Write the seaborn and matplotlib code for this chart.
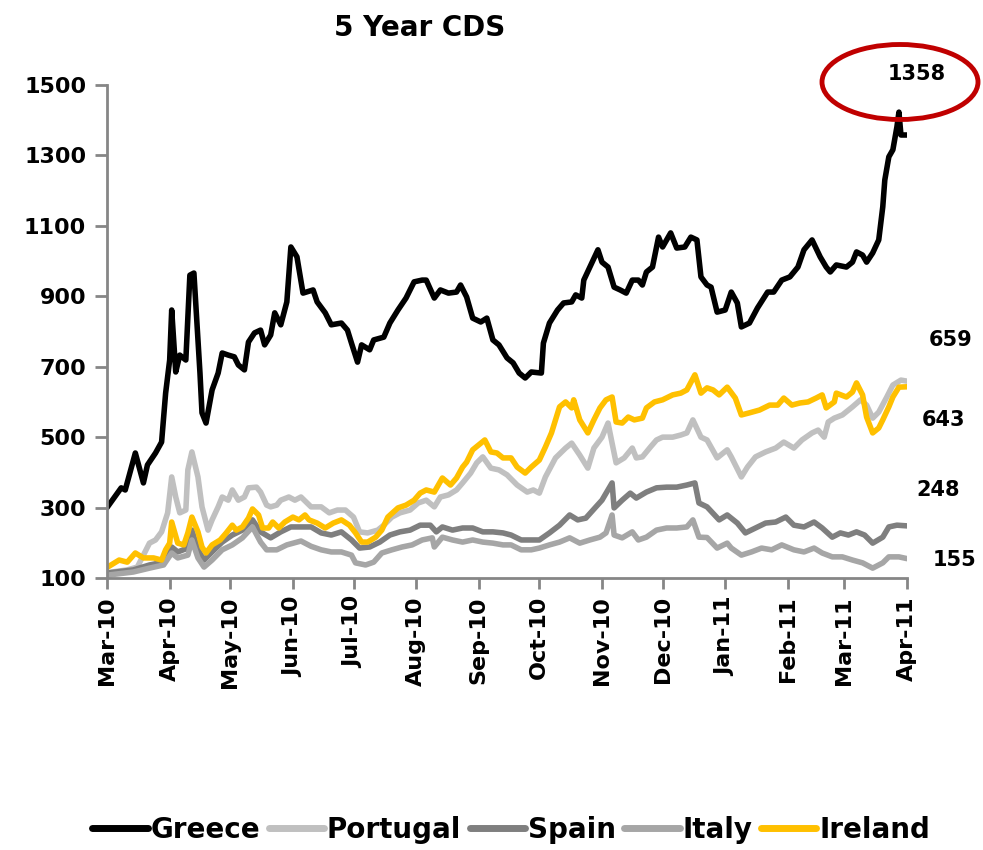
# 5 year CDS spreads, peripheral euro area
import matplotlib
matplotlib.use("Agg")
import matplotlib.pyplot as plt
import matplotlib.dates as mdates
from matplotlib.lines import Line2D
from matplotlib.patches import Ellipse
from matplotlib.transforms import blended_transform_factory
import pandas as pd
import seaborn as sns

countries = ["Greece", "Portugal", "Spain", "Italy", "Ireland"]
colors = ["#000000", "#c0c0c0", "#7f7f7f", "#a6a6a6", "#ffc000"]
month_ticks = pd.date_range("2010-03-01", "2011-04-01", freq="MS")

greece = [
    ("2010-03-01", 300), ("2010-03-08", 356), ("2010-03-10", 350), ("2010-03-15", 455), ("2010-03-19", 370),
    ("2010-03-21", 421), ("2010-03-25", 455), ("2010-03-28", 486), ("2010-03-30", 625),
    ("2010-04-01", 719), ("2010-04-02", 861), ("2010-04-04", 685), ("2010-04-06", 733), ("2010-04-09", 719),
    ("2010-04-11", 960), ("2010-04-13", 966), ("2010-04-16", 682), ("2010-04-17", 569), ("2010-04-19", 540),
    ("2010-04-22", 634), ("2010-04-25", 682), ("2010-04-27", 739), ("2010-04-30", 733),
    ("2010-05-03", 728), ("2010-05-05", 705), ("2010-05-08", 691), ("2010-05-10", 770), ("2010-05-13", 796),
    ("2010-05-16", 804), ("2010-05-18", 762), ("2010-05-21", 790), ("2010-05-23", 853), ("2010-05-26", 819),
    ("2010-05-29", 884), ("2010-05-31", 1040),
    ("2010-06-03", 1012), ("2010-06-06", 909), ("2010-06-11", 918), ("2010-06-13", 884), ("2010-06-17", 853),
    ("2010-06-20", 819), ("2010-06-25", 824), ("2010-06-28", 804), ("2010-06-30", 767),
    ("2010-07-03", 713), ("2010-07-05", 762), ("2010-07-09", 748), ("2010-07-11", 776), ("2010-07-16", 784),
    ("2010-07-19", 824), ("2010-07-23", 861), ("2010-07-27", 895), ("2010-07-31", 941),
    ("2010-08-04", 946), ("2010-08-06", 946), ("2010-08-10", 895), ("2010-08-13", 918), ("2010-08-17", 909),
    ("2010-08-21", 912), ("2010-08-23", 932), ("2010-08-26", 898), ("2010-08-29", 838),
    ("2010-09-02", 827), ("2010-09-05", 838), ("2010-09-08", 776), ("2010-09-11", 762), ("2010-09-15", 725),
    ("2010-09-18", 711), ("2010-09-21", 682), ("2010-09-24", 668), ("2010-09-27", 685),
    ("2010-10-02", 682), ("2010-10-03", 767), ("2010-10-06", 824), ("2010-10-10", 861), ("2010-10-13", 881),
    ("2010-10-17", 884), ("2010-10-19", 904), ("2010-10-22", 895), ("2010-10-23", 946), ("2010-10-26", 983),
    ("2010-10-30", 1032),
    ("2010-11-01", 997), ("2010-11-04", 983), ("2010-11-07", 926), ("2010-11-10", 918), ("2010-11-13", 909),
    ("2010-11-16", 946), ("2010-11-19", 946), ("2010-11-21", 932), ("2010-11-23", 969), ("2010-11-26", 983),
    ("2010-11-29", 1068),
    ("2010-12-01", 1040), ("2010-12-05", 1080), ("2010-12-08", 1037), ("2010-12-12", 1040), ("2010-12-15", 1068),
    ("2010-12-18", 1060), ("2010-12-20", 955), ("2010-12-23", 932), ("2010-12-25", 926), ("2010-12-28", 855),
    ("2011-01-01", 861), ("2011-01-04", 912), ("2011-01-07", 881), ("2011-01-09", 813), ("2011-01-13", 824),
    ("2011-01-17", 867), ("2011-01-22", 912), ("2011-01-25", 912), ("2011-01-29", 946),
    ("2011-02-02", 955), ("2011-02-06", 983), ("2011-02-09", 1032), ("2011-02-13", 1060), ("2011-02-17", 1012),
    ("2011-02-20", 983), ("2011-02-22", 969), ("2011-02-25", 989),
    ("2011-03-02", 983), ("2011-03-05", 997), ("2011-03-07", 1026), ("2011-03-10", 1017), ("2011-03-12", 997),
    ("2011-03-15", 1023), ("2011-03-18", 1060), ("2011-03-20", 1154), ("2011-03-21", 1230), ("2011-03-23", 1296),
    ("2011-03-25", 1316), ("2011-03-27", 1381), ("2011-03-28", 1423), ("2011-03-29", 1358), ("2011-04-01", 1358),
]

portugal = [
    ("2010-03-01", 115), ("2010-03-11", 123), ("2010-03-16", 131), ("2010-03-22", 199), ("2010-03-25", 208),
    ("2010-03-28", 231), ("2010-03-31", 285),
    ("2010-04-02", 387), ("2010-04-04", 330), ("2010-04-06", 285), ("2010-04-09", 293), ("2010-04-10", 407),
    ("2010-04-12", 458), ("2010-04-15", 387), ("2010-04-17", 302), ("2010-04-20", 236), ("2010-04-22", 265),
    ("2010-04-25", 302), ("2010-04-27", 330), ("2010-04-30", 321),
    ("2010-05-02", 350), ("2010-05-05", 321), ("2010-05-08", 330), ("2010-05-10", 356), ("2010-05-14", 358),
    ("2010-05-16", 344), ("2010-05-19", 307), ("2010-05-21", 302), ("2010-05-24", 307), ("2010-05-26", 321),
    ("2010-05-30", 330),
    ("2010-06-02", 321), ("2010-06-05", 330), ("2010-06-10", 302), ("2010-06-15", 302), ("2010-06-19", 285),
    ("2010-06-23", 293), ("2010-06-27", 293),
    ("2010-07-01", 273), ("2010-07-04", 231), ("2010-07-08", 228), ("2010-07-13", 236), ("2010-07-16", 250),
    ("2010-07-20", 273), ("2010-07-24", 285), ("2010-07-29", 293),
    ("2010-08-02", 313), ("2010-08-06", 321), ("2010-08-10", 302), ("2010-08-13", 330), ("2010-08-17", 336),
    ("2010-08-21", 350), ("2010-08-24", 370), ("2010-08-28", 398), ("2010-08-31", 427),
    ("2010-09-03", 444), ("2010-09-07", 412), ("2010-09-11", 407), ("2010-09-15", 393), ("2010-09-20", 364),
    ("2010-09-25", 344), ("2010-09-28", 350),
    ("2010-10-01", 341), ("2010-10-04", 387), ("2010-10-09", 441), ("2010-10-14", 469), ("2010-10-17", 483),
    ("2010-10-21", 449), ("2010-10-25", 412), ("2010-10-28", 469),
    ("2010-11-01", 500), ("2010-11-04", 540), ("2010-11-06", 483), ("2010-11-08", 427), ("2010-11-12", 441),
    ("2010-11-16", 469), ("2010-11-18", 441), ("2010-11-21", 444), ("2010-11-25", 472), ("2010-11-28", 492),
    ("2010-12-01", 500), ("2010-12-06", 500), ("2010-12-10", 506), ("2010-12-13", 512), ("2010-12-16", 549),
    ("2010-12-20", 500), ("2010-12-23", 492), ("2010-12-28", 441),
    ("2011-01-02", 464), ("2011-01-04", 444), ("2011-01-09", 387), ("2011-01-12", 415), ("2011-01-16", 444),
    ("2011-01-21", 458), ("2011-01-26", 469), ("2011-01-30", 486),
    ("2011-02-04", 469), ("2011-02-08", 492), ("2011-02-13", 512), ("2011-02-16", 520), ("2011-02-19", 500),
    ("2011-02-21", 543), ("2011-02-24", 554), ("2011-02-28", 563),
    ("2011-03-05", 586), ("2011-03-09", 606), ("2011-03-12", 591), ("2011-03-15", 554), ("2011-03-18", 571),
    ("2011-03-22", 614), ("2011-03-25", 648), ("2011-03-29", 662), ("2011-04-01", 659),
]

spain = [
    ("2010-03-01", 114), ("2010-03-14", 123), ("2010-03-22", 137), ("2010-03-29", 145),
    ("2010-04-02", 188), ("2010-04-05", 174), ("2010-04-10", 185), ("2010-04-12", 236), ("2010-04-15", 180),
    ("2010-04-18", 151), ("2010-04-22", 174), ("2010-04-27", 202),
    ("2010-05-02", 222), ("2010-05-07", 236), ("2010-05-12", 265), ("2010-05-16", 231), ("2010-05-21", 214),
    ("2010-05-26", 231), ("2010-05-31", 245),
    ("2010-06-05", 245), ("2010-06-10", 245), ("2010-06-15", 228), ("2010-06-20", 222), ("2010-06-25", 231),
    ("2010-06-30", 208),
    ("2010-07-04", 185), ("2010-07-09", 188), ("2010-07-14", 202), ("2010-07-19", 222), ("2010-07-24", 231),
    ("2010-07-29", 236),
    ("2010-08-03", 250), ("2010-08-08", 250), ("2010-08-11", 231), ("2010-08-14", 245), ("2010-08-19", 236),
    ("2010-08-24", 242), ("2010-08-29", 242),
    ("2010-09-03", 231), ("2010-09-08", 231), ("2010-09-13", 228), ("2010-09-17", 222), ("2010-09-22", 208),
    ("2010-09-27", 208),
    ("2010-10-01", 208), ("2010-10-06", 228), ("2010-10-11", 250), ("2010-10-16", 279), ("2010-10-20", 265),
    ("2010-10-24", 270), ("2010-10-29", 302),
    ("2010-11-01", 321), ("2010-11-06", 370), ("2010-11-07", 299), ("2010-11-11", 321), ("2010-11-15", 341),
    ("2010-11-18", 327), ("2010-11-23", 344), ("2010-11-28", 356),
    ("2010-12-03", 358), ("2010-12-08", 358), ("2010-12-13", 364), ("2010-12-17", 370), ("2010-12-19", 313),
    ("2010-12-23", 302), ("2010-12-29", 265),
    ("2011-01-02", 279), ("2011-01-07", 256), ("2011-01-11", 228), ("2011-01-16", 242), ("2011-01-21", 256),
    ("2011-01-26", 259), ("2011-01-31", 273),
    ("2011-02-04", 250), ("2011-02-09", 245), ("2011-02-14", 259), ("2011-02-18", 242), ("2011-02-23", 216),
    ("2011-02-27", 228),
    ("2011-03-03", 222), ("2011-03-07", 231), ("2011-03-11", 222), ("2011-03-15", 199), ("2011-03-20", 216),
    ("2011-03-23", 245), ("2011-03-27", 250), ("2011-04-01", 248),
]

italy = [
    ("2010-03-01", 108), ("2010-03-14", 117), ("2010-03-22", 128), ("2010-03-29", 137),
    ("2010-04-02", 171), ("2010-04-05", 157), ("2010-04-10", 165), ("2010-04-12", 208), ("2010-04-15", 157),
    ("2010-04-18", 131), ("2010-04-22", 151), ("2010-04-27", 180),
    ("2010-05-02", 194), ("2010-05-07", 214), ("2010-05-12", 245), ("2010-05-16", 202), ("2010-05-19", 180),
    ("2010-05-24", 180), ("2010-05-29", 194),
    ("2010-06-05", 205), ("2010-06-10", 190), ("2010-06-15", 180), ("2010-06-20", 174), ("2010-06-25", 174),
    ("2010-06-30", 165),
    ("2010-07-02", 143), ("2010-07-07", 137), ("2010-07-11", 145), ("2010-07-15", 171), ("2010-07-20", 180),
    ("2010-07-25", 188), ("2010-07-30", 194),
    ("2010-08-04", 208), ("2010-08-09", 214), ("2010-08-10", 188), ("2010-08-14", 216), ("2010-08-19", 208),
    ("2010-08-24", 202), ("2010-08-29", 208),
    ("2010-09-03", 202), ("2010-09-08", 199), ("2010-09-13", 194), ("2010-09-17", 194), ("2010-09-22", 180),
    ("2010-09-27", 180),
    ("2010-10-01", 185), ("2010-10-06", 194), ("2010-10-11", 202), ("2010-10-16", 214), ("2010-10-21", 199),
    ("2010-10-26", 208), ("2010-10-31", 216),
    ("2010-11-03", 228), ("2010-11-06", 279), ("2010-11-07", 222), ("2010-11-11", 214), ("2010-11-16", 231),
    ("2010-11-19", 208), ("2010-11-23", 216), ("2010-11-28", 236),
    ("2010-12-03", 242), ("2010-12-08", 242), ("2010-12-13", 245), ("2010-12-16", 265), ("2010-12-19", 216),
    ("2010-12-23", 215), ("2010-12-28", 185),
    ("2011-01-02", 199), ("2011-01-04", 185), ("2011-01-09", 165), ("2011-01-14", 174), ("2011-01-19", 185),
    ("2011-01-24", 180), ("2011-01-29", 194),
    ("2011-02-04", 180), ("2011-02-09", 174), ("2011-02-14", 185), ("2011-02-18", 171), ("2011-02-23", 160),
    ("2011-02-28", 160),
    ("2011-03-05", 151), ("2011-03-10", 143), ("2011-03-15", 128), ("2011-03-20", 143), ("2011-03-23", 160),
    ("2011-03-28", 160), ("2011-04-01", 155),
]

ireland = [
    ("2010-03-01", 130), ("2010-03-07", 151), ("2010-03-11", 145), ("2010-03-15", 171), ("2010-03-19", 157),
    ("2010-03-24", 157), ("2010-03-28", 151), ("2010-03-30", 180),
    ("2010-04-01", 199), ("2010-04-02", 259), ("2010-04-05", 199), ("2010-04-08", 194), ("2010-04-10", 228),
    ("2010-04-12", 273), ("2010-04-15", 231), ("2010-04-17", 188), ("2010-04-19", 171), ("2010-04-22", 194),
    ("2010-04-26", 208), ("2010-04-29", 228),
    ("2010-05-02", 250), ("2010-05-04", 236), ("2010-05-07", 245), ("2010-05-10", 270), ("2010-05-12", 296),
    ("2010-05-15", 279), ("2010-05-17", 242), ("2010-05-20", 242), ("2010-05-22", 259), ("2010-05-25", 242),
    ("2010-05-28", 259),
    ("2010-06-01", 273), ("2010-06-04", 265), ("2010-06-07", 279), ("2010-06-09", 265), ("2010-06-13", 256),
    ("2010-06-17", 242), ("2010-06-21", 256), ("2010-06-25", 265), ("2010-06-29", 250),
    ("2010-07-02", 228), ("2010-07-05", 202), ("2010-07-08", 202), ("2010-07-12", 216), ("2010-07-15", 236),
    ("2010-07-18", 273), ("2010-07-23", 299), ("2010-07-27", 307), ("2010-07-31", 321),
    ("2010-08-03", 341), ("2010-08-06", 350), ("2010-08-10", 344), ("2010-08-14", 384), ("2010-08-18", 364),
    ("2010-08-21", 384), ("2010-08-24", 415), ("2010-08-26", 429), ("2010-08-29", 464),
    ("2010-09-01", 478), ("2010-09-04", 492), ("2010-09-07", 458), ("2010-09-10", 455), ("2010-09-13", 441),
    ("2010-09-17", 441), ("2010-09-20", 415), ("2010-09-24", 398), ("2010-09-27", 415),
    ("2010-10-01", 435), ("2010-10-04", 472), ("2010-10-07", 512), ("2010-10-11", 586), ("2010-10-14", 600),
    ("2010-10-17", 583), ("2010-10-18", 606), ("2010-10-21", 549), ("2010-10-25", 512), ("2010-10-28", 549),
    ("2010-10-31", 583),
    ("2010-11-03", 606), ("2010-11-06", 614), ("2010-11-08", 543), ("2010-11-11", 540), ("2010-11-14", 557),
    ("2010-11-17", 549), ("2010-11-21", 554), ("2010-11-23", 583), ("2010-11-27", 600),
    ("2010-12-01", 606), ("2010-12-06", 620), ("2010-12-10", 625), ("2010-12-13", 634), ("2010-12-17", 677),
    ("2010-12-20", 625), ("2010-12-23", 640), ("2010-12-26", 634), ("2010-12-29", 620),
    ("2011-01-02", 642), ("2011-01-06", 611), ("2011-01-09", 563), ("2011-01-13", 569), ("2011-01-18", 577),
    ("2011-01-23", 591), ("2011-01-27", 591), ("2011-01-30", 611),
    ("2011-02-03", 591), ("2011-02-07", 597), ("2011-02-11", 600), ("2011-02-15", 611), ("2011-02-18", 620),
    ("2011-02-20", 583), ("2011-02-24", 600), ("2011-02-25", 625),
    ("2011-03-02", 614), ("2011-03-05", 628), ("2011-03-07", 654), ("2011-03-10", 620), ("2011-03-12", 557),
    ("2011-03-15", 512), ("2011-03-18", 526), ("2011-03-20", 549), ("2011-03-23", 586), ("2011-03-25", 614),
    ("2011-03-28", 642), ("2011-04-01", 643),
]

series = [greece, portugal, spain, italy, ireland]

frames = []
for name, rows in zip(countries, series):
    d = pd.DataFrame(rows, columns=["date", "cds"])
    d["country"] = name
    frames.append(d)
df = pd.concat(frames, ignore_index=True)
df["date"] = pd.to_datetime(df["date"])

sns.set_theme(style="ticks")
plt.rcParams["font.family"] = ["DejaVu Sans"]
plt.rcParams["font.weight"] = "bold"
plt.rcParams["text.color"] = "black"
plt.rcParams["xtick.labelcolor"] = "black"
plt.rcParams["ytick.labelcolor"] = "black"

fig = plt.figure(figsize=(9.83, 8.5), dpi=100)
ax = fig.add_axes([0.1089, 0.32, 0.8138, 0.58])

sns.lineplot(data=df, x="date", y="cds", hue="country", hue_order=countries,
             palette=colors, linewidth=4, estimator=None, legend=False, ax=ax)

ax.set_ylim(100, 1500)
ax.set_yticks(range(100, 1501, 200))
ax.set_xlim(month_ticks[0], month_ticks[-1])
ax.set_xticks(month_ticks)
ax.xaxis.set_major_formatter(mdates.DateFormatter("%b-%y"))
ax.set_xlabel("")
ax.set_ylabel("")

grey = "#868686"
ax.tick_params(axis="x", rotation=90, labelsize=16, length=8, width=2, color=grey,
               labelcolor="black", pad=5, bottom=True)
ax.tick_params(axis="y", labelsize=16, length=9, width=2, color=grey,
               labelcolor="black", pad=6, left=True)
sns.despine(ax=ax)
for s in ["left", "bottom"]:
    ax.spines[s].set_color(grey)
    ax.spines[s].set_linewidth(2)

# end-of-period labels
trans = blended_transform_factory(ax.transAxes, ax.transData)
label_pos = {"Greece": (1.0125, 1531), "Portugal": (1.054, 776), "Ireland": (1.046, 549),
             "Spain": (1.039, 350), "Italy": (1.06, 151)}
for name, rows in zip(countries, series):
    x, y = label_pos[name]
    ax.text(x, y, f"{rows[-1][1]}", transform=trans, ha="center", va="center",
            fontsize=15, fontweight="bold", color="black", clip_on=False)

fig.add_artist(Ellipse((900 / 983, 1 - 82 / 850), 156 / 983, 75 / 850, transform=fig.transFigure,
                       fill=False, edgecolor="#c00000", linewidth=3.5))

fig.text(420 / 983, 1 - 28 / 850, "5 Year CDS", ha="center", va="center",
         fontsize=20, fontweight="bold", color="black")

handles = [Line2D([0], [0], color=c, lw=5) for c in colors]
leg = fig.legend(handles, countries, loc="center", bbox_to_anchor=(0.52, 0.024), ncol=5, frameon=False,
                 fontsize=20, handlelength=2.0, handletextpad=0.1, columnspacing=0.3)
for t in leg.get_texts():
    t.set_color("black")

fig.savefig("out.png", dpi=100)
